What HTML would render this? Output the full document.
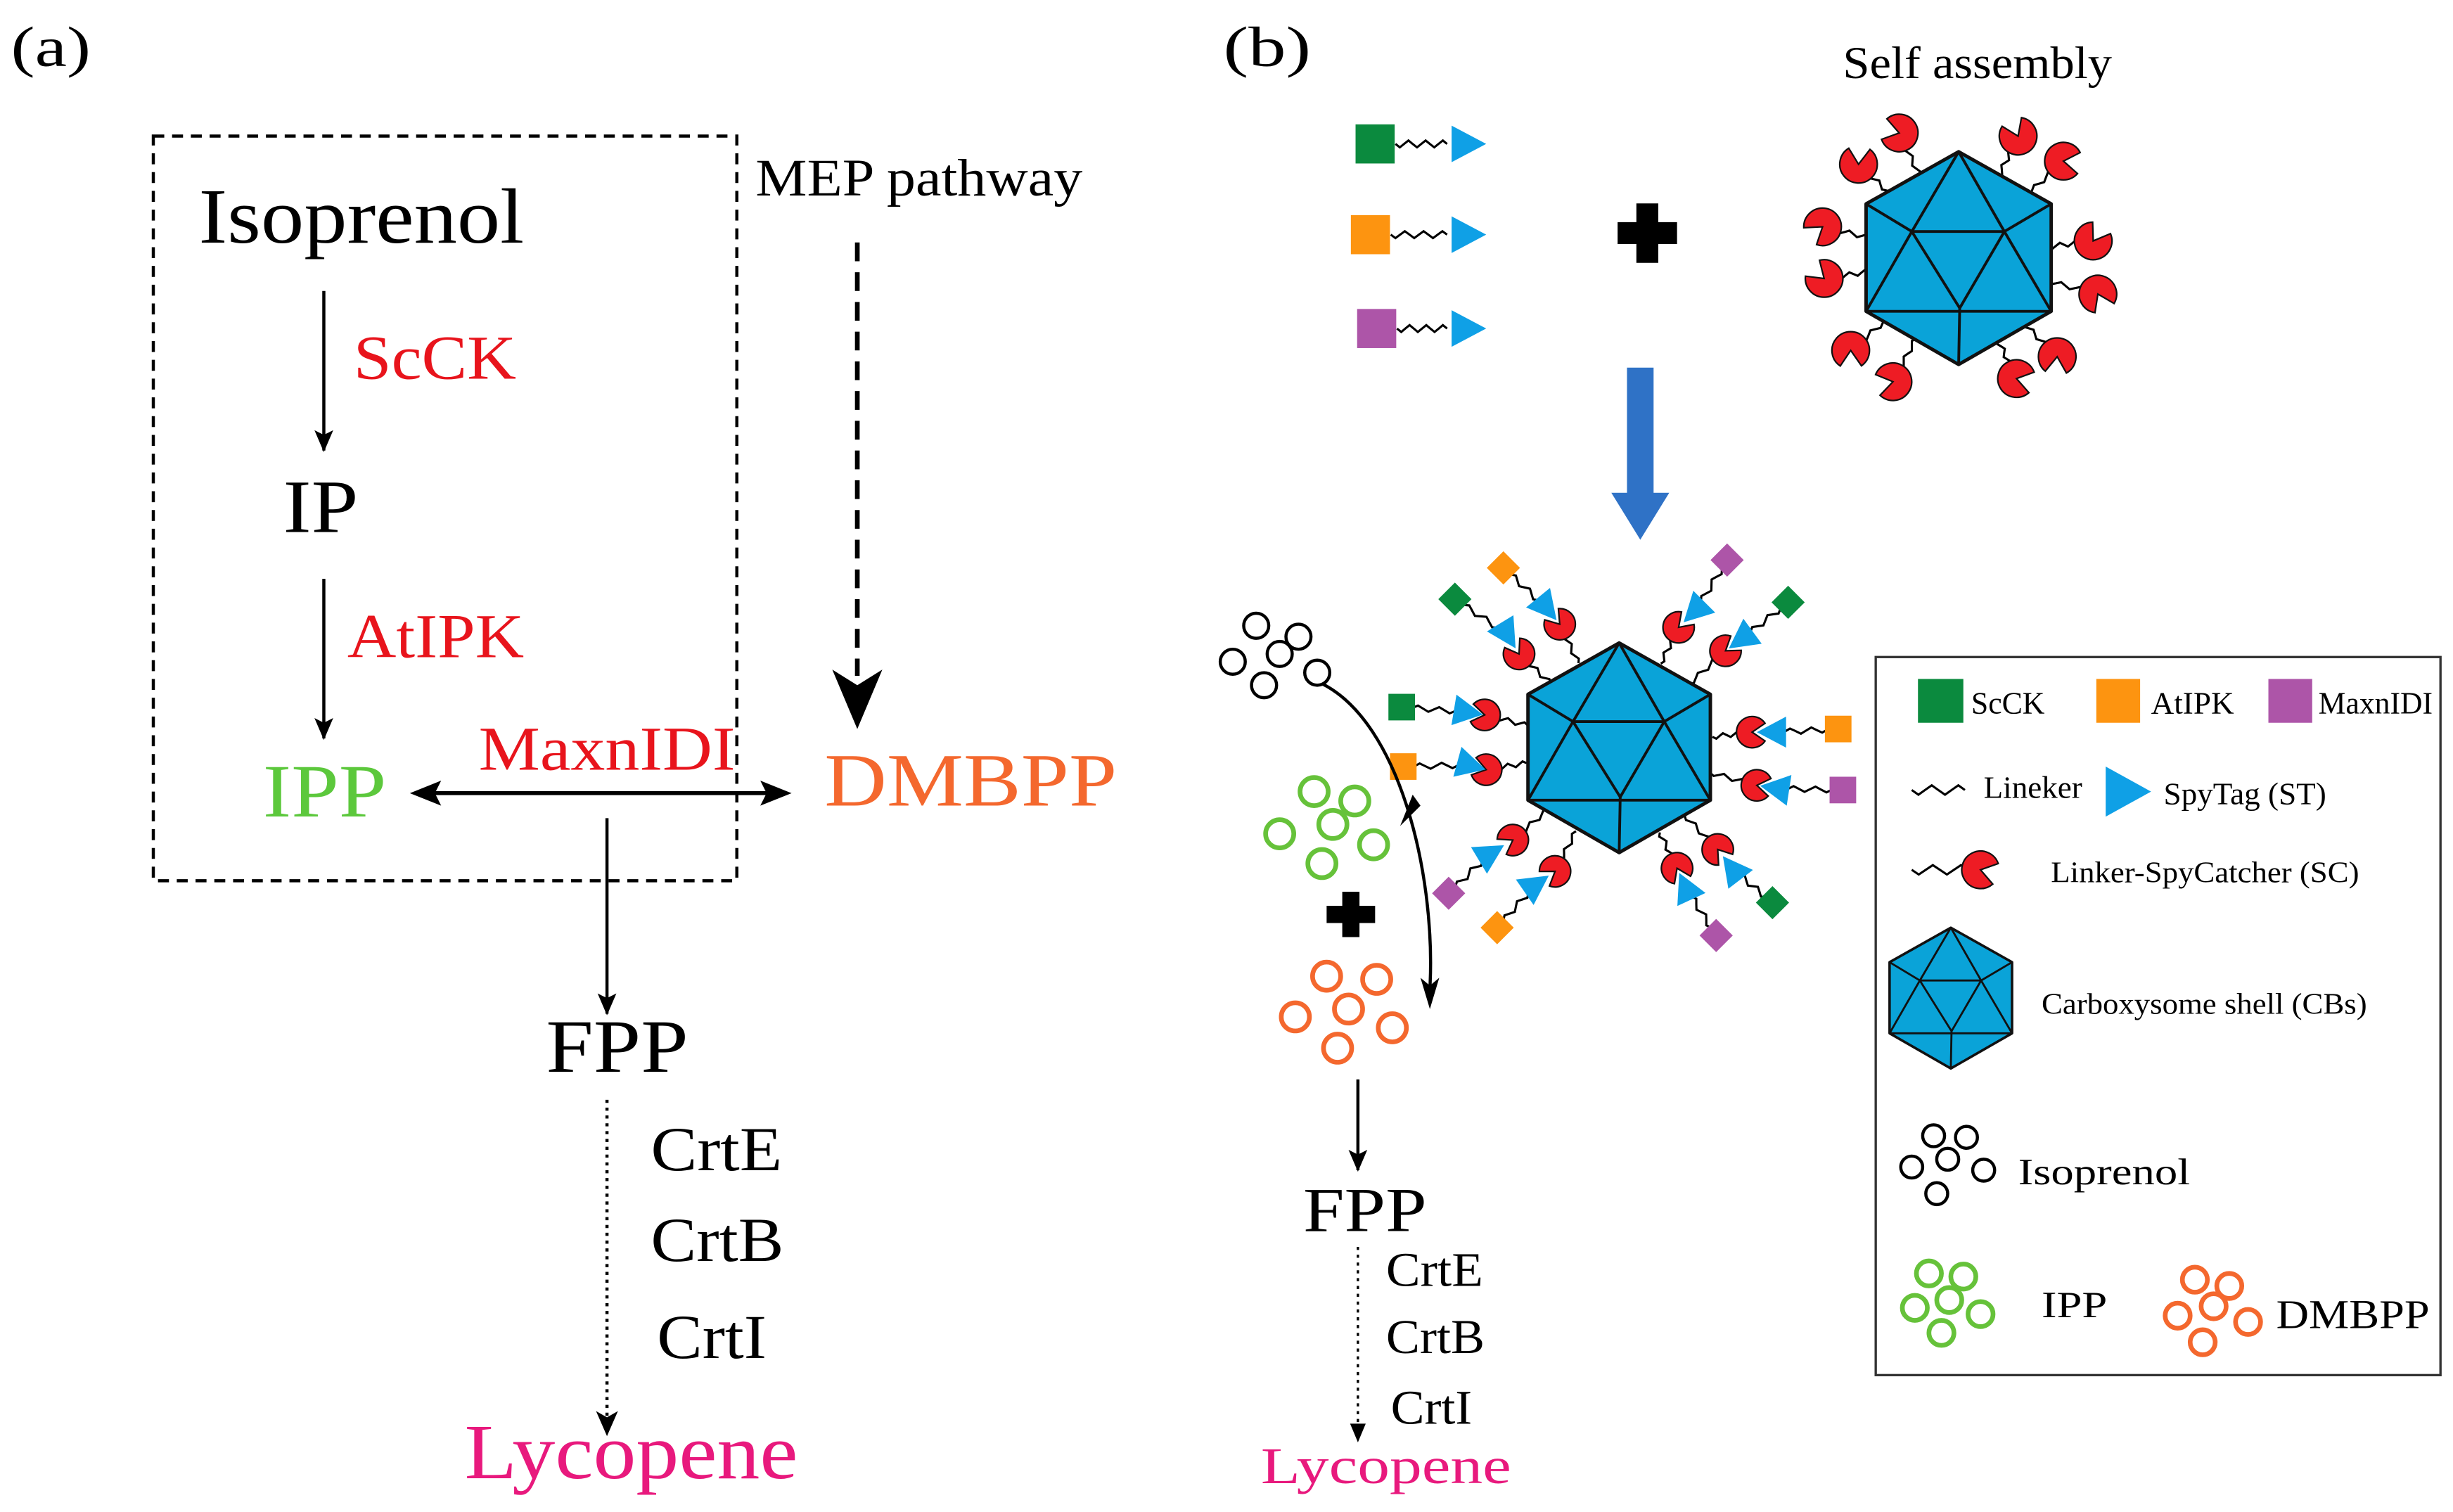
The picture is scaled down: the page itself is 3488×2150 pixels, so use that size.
<!DOCTYPE html>
<html><head><meta charset="utf-8"><style>
html,body{margin:0;padding:0;background:#fff}
svg{display:block}
text{font-family:"Liberation Serif",serif}
</style></head><body>
<svg id="s" width="3488" height="2150" viewBox="0 0 1568 966.5" preserveAspectRatio="none" xmlns="http://www.w3.org/2000/svg">
<defs>
<marker id="ah2" markerWidth="14" markerHeight="14" refX="13" refY="7" orient="auto" markerUnits="userSpaceOnUse"><path d="M0,1 L14,7 L0,13 L3,7 Z" fill="#000"/></marker>
</defs>
<!-- Panel a -->
<text x="7" y="42" font-size="36" textLength="51" lengthAdjust="spacingAndGlyphs">(a)</text>
<rect x="98" y="87" width="373" height="476" fill="none" stroke="#000" stroke-width="2" stroke-dasharray="7,5"/>
<text x="127" y="155" font-size="50" textLength="208" lengthAdjust="spacingAndGlyphs">Isoprenol</text>
<text x="483" y="125" font-size="34" textLength="209" lengthAdjust="spacingAndGlyphs">MEP pathway</text>
<line x1="207" y1="186" x2="207" y2="288" stroke="#000" stroke-width="2" marker-end="url(#ah2)"/>
<text x="226" y="242" font-size="40" fill="#e8141c" textLength="104" lengthAdjust="spacingAndGlyphs">ScCK</text>
<text x="181" y="340" font-size="48" textLength="48" lengthAdjust="spacingAndGlyphs">IP</text>
<line x1="207" y1="370" x2="207" y2="472" stroke="#000" stroke-width="2" marker-end="url(#ah2)"/>
<text x="222" y="420" font-size="40" fill="#e8141c" textLength="113" lengthAdjust="spacingAndGlyphs">AtIPK</text>
<text x="168" y="522" font-size="48" fill="#5cc83c" textLength="79" lengthAdjust="spacingAndGlyphs">IPP</text>
<text x="306" y="492" font-size="40" fill="#e8141c" textLength="164" lengthAdjust="spacingAndGlyphs">MaxnIDI</text>
<line x1="275" y1="507" x2="492" y2="507" stroke="#000" stroke-width="2.5"/>
<path d="M262,507 L282,499 L278,507 L282,515 Z"/>
<path d="M506,507 L486,499 L490,507 L486,515 Z"/>
<line x1="548" y1="155" x2="548" y2="432" stroke="#000" stroke-width="3" stroke-dasharray="12,7"/>
<path d="M532,428 L548,466 L564,428 L548,438 Z"/>
<text x="527" y="515" font-size="48" fill="#f4682e" textLength="187" lengthAdjust="spacingAndGlyphs">DMBPP</text>
<line x1="388" y1="523" x2="388" y2="648" stroke="#000" stroke-width="2" marker-end="url(#ah2)"/>
<text x="349" y="685" font-size="48" textLength="91" lengthAdjust="spacingAndGlyphs">FPP</text>
<line x1="388" y1="703" x2="388" y2="912" stroke="#000" stroke-width="2" stroke-dasharray="2,3"/>
<path d="M381,902 L388,918 L395,902 L388,906 Z"/>
<text x="416" y="748" font-size="40" textLength="84" lengthAdjust="spacingAndGlyphs">CrtE</text>
<text x="416" y="806" font-size="40" textLength="85" lengthAdjust="spacingAndGlyphs">CrtB</text>
<text x="420" y="868" font-size="40" textLength="70" lengthAdjust="spacingAndGlyphs">CrtI</text>
<text x="297" y="945" font-size="50" fill="#e8197d" textLength="213" lengthAdjust="spacingAndGlyphs">Lycopene</text>

<!-- Panel b -->
<text x="782" y="42" font-size="36" textLength="56" lengthAdjust="spacingAndGlyphs">(b)</text>
<text x="1178" y="50" font-size="29" textLength="172" lengthAdjust="spacingAndGlyphs">Self assembly</text>
<g id="dyn"></g>
<path d="M1046,130 h14 v12 h12 v14 h-12 v12 h-14 v-12 h-12 v-14 h12 Z" fill="#000"/>
<path d="M858,570 h11 v9 h10 v11 h-10 v9 h-11 v-9 h-10 v-11 h10 Z" fill="#000"/>
<path d="M1040,235 h17 v80 h10 l-18.5,30 l-18.5,-30 h10 Z" fill="#2f72c6"/>
<path d="M845,437 C895,462 918,560 914,632" fill="none" stroke="#000" stroke-width="2"/>
<path d="M908,625 L914,645 L920,625 L914,630 Z"/>
<path d="M903,508 L895,528 L908,515 Z" fill="#000"/>
<line x1="868" y1="690" x2="868" y2="748" stroke="#000" stroke-width="2" marker-end="url(#ah2)"/>
<text x="833" y="787" font-size="40" textLength="79" lengthAdjust="spacingAndGlyphs">FPP</text>
<line x1="868" y1="797" x2="868" y2="915" stroke="#000" stroke-width="1.5" stroke-dasharray="2,3"/>
<path d="M863,910 L868,922 L873,910 Z"/>
<text x="886" y="822" font-size="31" textLength="62" lengthAdjust="spacingAndGlyphs">CrtE</text>
<text x="886" y="865" font-size="31" textLength="63" lengthAdjust="spacingAndGlyphs">CrtB</text>
<text x="889" y="910" font-size="31" textLength="52" lengthAdjust="spacingAndGlyphs">CrtI</text>
<text x="806" y="948" font-size="33" fill="#e8197d" textLength="160" lengthAdjust="spacingAndGlyphs">Lycopene</text>

<!-- legend -->
<rect x="1199" y="420" width="361" height="459" fill="none" stroke="#333" stroke-width="1.5"/>
<rect x="1226" y="434" width="29" height="28" fill="#0b8a3e"/>
<text x="1260" y="456" font-size="20" textLength="47" lengthAdjust="spacingAndGlyphs">ScCK</text>
<rect x="1340" y="434" width="28" height="28" fill="#fd9410"/>
<text x="1375" y="456" font-size="20" textLength="53" lengthAdjust="spacingAndGlyphs">AtIPK</text>
<rect x="1450" y="434" width="28" height="28" fill="#ad55a8"/>
<text x="1482" y="456" font-size="20" textLength="73" lengthAdjust="spacingAndGlyphs">MaxnIDI</text>
<text x="1268" y="510" font-size="20" textLength="63" lengthAdjust="spacingAndGlyphs">Lineker</text>
<path d="M1346,490 L1375,506 L1346,522 Z" fill="#0fa0e6"/>
<text x="1383" y="514" font-size="20" textLength="104" lengthAdjust="spacingAndGlyphs">SpyTag (ST)</text>
<text x="1311" y="564" font-size="19" textLength="197" lengthAdjust="spacingAndGlyphs">Linker-SpyCatcher (SC)</text>
<text x="1305" y="648" font-size="19" textLength="208" lengthAdjust="spacingAndGlyphs">Carboxysome shell (CBs)</text>
<text x="1290" y="757" font-size="24" textLength="110" lengthAdjust="spacingAndGlyphs">Isoprenol</text>
<text x="1305" y="842" font-size="24" textLength="42" lengthAdjust="spacingAndGlyphs">IPP</text>
<text x="1455" y="849" font-size="26" textLength="98" lengthAdjust="spacingAndGlyphs">DMBPP</text>
</svg>
<script>
(function(){
var NS="http://www.w3.org/2000/svg",g=document.getElementById("dyn");
function el(t,a){var e=document.createElementNS(NS,t);for(var k in a)e.setAttribute(k,a[k]);g.appendChild(e);return e;}
function ico(cx,cy,r,sw){
 function P(x,y){return [cx+x*r,cy+y*r];}
 var T=P(0,-1),UL=P(-0.87,-0.51),UR=P(0.87,-0.51),LL=P(-0.87,0.5),LR=P(0.87,0.5),B=P(0,1),A=P(-0.44,-0.25),Bp=P(0.43,-0.25),C=P(0.01,0.47);
 el("polygon",{points:[T,UR,LR,B,LL,UL].map(function(p){return p.join(",")}).join(" "),fill:"#0aa3d8",stroke:"#111","stroke-width":sw,"stroke-linejoin":"round"});
 var L=[[T,A],[T,Bp],[A,Bp],[A,C],[Bp,C],[UL,A],[UR,Bp],[A,LL],[Bp,LR],[LL,LR],[C,B]];
 L.forEach(function(l){el("line",{x1:l[0][0],y1:l[0][1],x2:l[1][0],y2:l[1][1],stroke:"#111","stroke-width":sw*0.8});});
}
function wave(p,q,amp,n){
 var dx=q[0]-p[0],dy=q[1]-p[1],len=Math.hypot(dx,dy),nx=-dy/len,ny=dx/len,pts=[];
 for(var i=0;i<=n*4;i++){var t=i/(n*4),s=Math.sin(t*n*2*Math.PI)*amp;pts.push((p[0]+dx*t+nx*s).toFixed(1)+","+(p[1]+dy*t+ny*s).toFixed(1));}
 el("polyline",{points:pts.join(" "),fill:"none",stroke:"#000","stroke-width":1.4});
}
function pac(x,y,r,ang){
 var a=ang*Math.PI/180,d=0.6;
 var x1=x+r*Math.cos(a-d),y1=y+r*Math.sin(a-d),x2=x+r*Math.cos(a+d),y2=y+r*Math.sin(a+d);
 el("path",{d:"M"+x+","+y+" L"+x1+","+y1+" A"+r+","+r+" 0 1,0 "+x2+","+y2+" Z",fill:"#ee1c24",stroke:"#111","stroke-width":1});
}
function tri(x,y,s,ang){
 var a=ang*Math.PI/180,pts=[];
 [[s,0],[-s*0.7,-s*0.9],[-s*0.7,s*0.9]].forEach(function(p){pts.push((x+p[0]*Math.cos(a)-p[1]*Math.sin(a)).toFixed(1)+","+(y+p[0]*Math.sin(a)+p[1]*Math.cos(a)).toFixed(1));});
 el("polygon",{points:pts.join(" "),fill:"#0fa0e6"});
}
function enz(x,y,s,col,rot){el("rect",{x:x-s/2,y:y-s/2,width:s,height:s,fill:col,transform:"rotate("+rot+" "+x+" "+y+")"});}
function ang(p,q){return Math.atan2(q[1]-p[1],q[0]-p[0])*180/Math.PI;}
var GR="#0b8a3e",OR="#fd9410",PU="#ad55a8";
[[879,92,GR],[876,150,OR],[880,210,PU]].forEach(function(r){enz(r[0],r[1],25,r[2],0);wave([r[0]+13,r[1]],[925,r[1]],2.2,3);tri(937,r[1],13,0);});
var cx=1252,cy=165;
var tp=[[1214,85],[1188,105],[1290,87],[1319,103],[1165,145],[1166,178],[1338,154],[1341,188],[1183,224],[1210,244],[1289,242],[1315,228]];
tp.forEach(function(p){var a=Math.atan2(p[1]-cy,p[0]-cx);wave([cx+Math.cos(a)*58,cy+Math.sin(a)*58],[p[0]-Math.cos(a)*9,p[1]-Math.sin(a)*9],1.5,2);});
ico(cx,cy,68,2.2);
tp.forEach(function(p,i){pac(p[0],p[1],12,ang([cx,cy],p)+(i%2?50:-50));});
var mx=1035,my=478;
var arms=[
 [[997,399],[988,388],[961,363],OR,1],[[971,418],[963,405],[930,383],GR,1],
 [[1073,401],[1084,390],[1104,358],PU,1],[[1103,416],[1114,408],[1143,385],GR,1],
 [[949,457],[937,455],[896,452],GR,0],[[950,492],[939,489],[897,490],OR,0],
 [[1120,468],[1134,468],[1175,466],OR,0],[[1123,502],[1136,504],[1178,505],PU,0],
 [[967,537],[952,546],[926,571],PU,1],[[994,557],[981,566],[957,593],OR,1],
 [[1098,543],[1108,556],[1133,577],GR,1],[[1072,555],[1078,568],[1097,598],PU,1]];
arms.forEach(function(a){var P=a[0],T=a[1],E=a[2],an=Math.atan2(P[1]-my,P[0]-mx);
 wave([mx+Math.cos(an)*60,my+Math.sin(an)*60],[P[0]-Math.cos(an)*7,P[1]-Math.sin(an)*7],1.5,2);
 wave(T,E,1.8,3);
});
ico(mx,my,67,2.2);
arms.forEach(function(a){var P=a[0],T=a[1],E=a[2];
 pac(P[0],P[1],10,ang(P,T));tri(T[0],T[1],11,ang(T,P));enz(E[0],E[1],a[4]?15:17,a[3],a[4]?45:0);
});
function cl(pts,col,r,sw){pts.forEach(function(p){el("circle",{cx:p[0],cy:p[1],r:r,fill:"none",stroke:col,"stroke-width":sw});});}
cl([[803,400],[830,407],[788,423],[818,418],[842,430],[808,438]],"#000",8,2);
cl([[840,506],[866,512],[818,533],[852,527],[878,540],[845,552]],"#66c23a",9,3);
cl([[848,624],[880,626],[828,650],[862,645],[890,657],[855,670]],"#f4682e",9,3);
wave([1222,505],[1256,505],3,2);
wave([1222,556],[1258,556],3,2);pac(1266,556,12,15);
ico(1247,638,45,1.6);
cl([[1236,726],[1257,727],[1222,746],[1245,741],[1268,748],[1238,763]],"#000",7,2);
cl([[1233,814],[1255,816],[1224,836],[1246,831],[1266,840],[1241,852]],"#66c23a",8,3);
cl([[1403,818],[1425,822],[1392,841],[1415,835],[1437,845],[1408,858]],"#f4682e",8,3);
})();
</script>
</body></html>
